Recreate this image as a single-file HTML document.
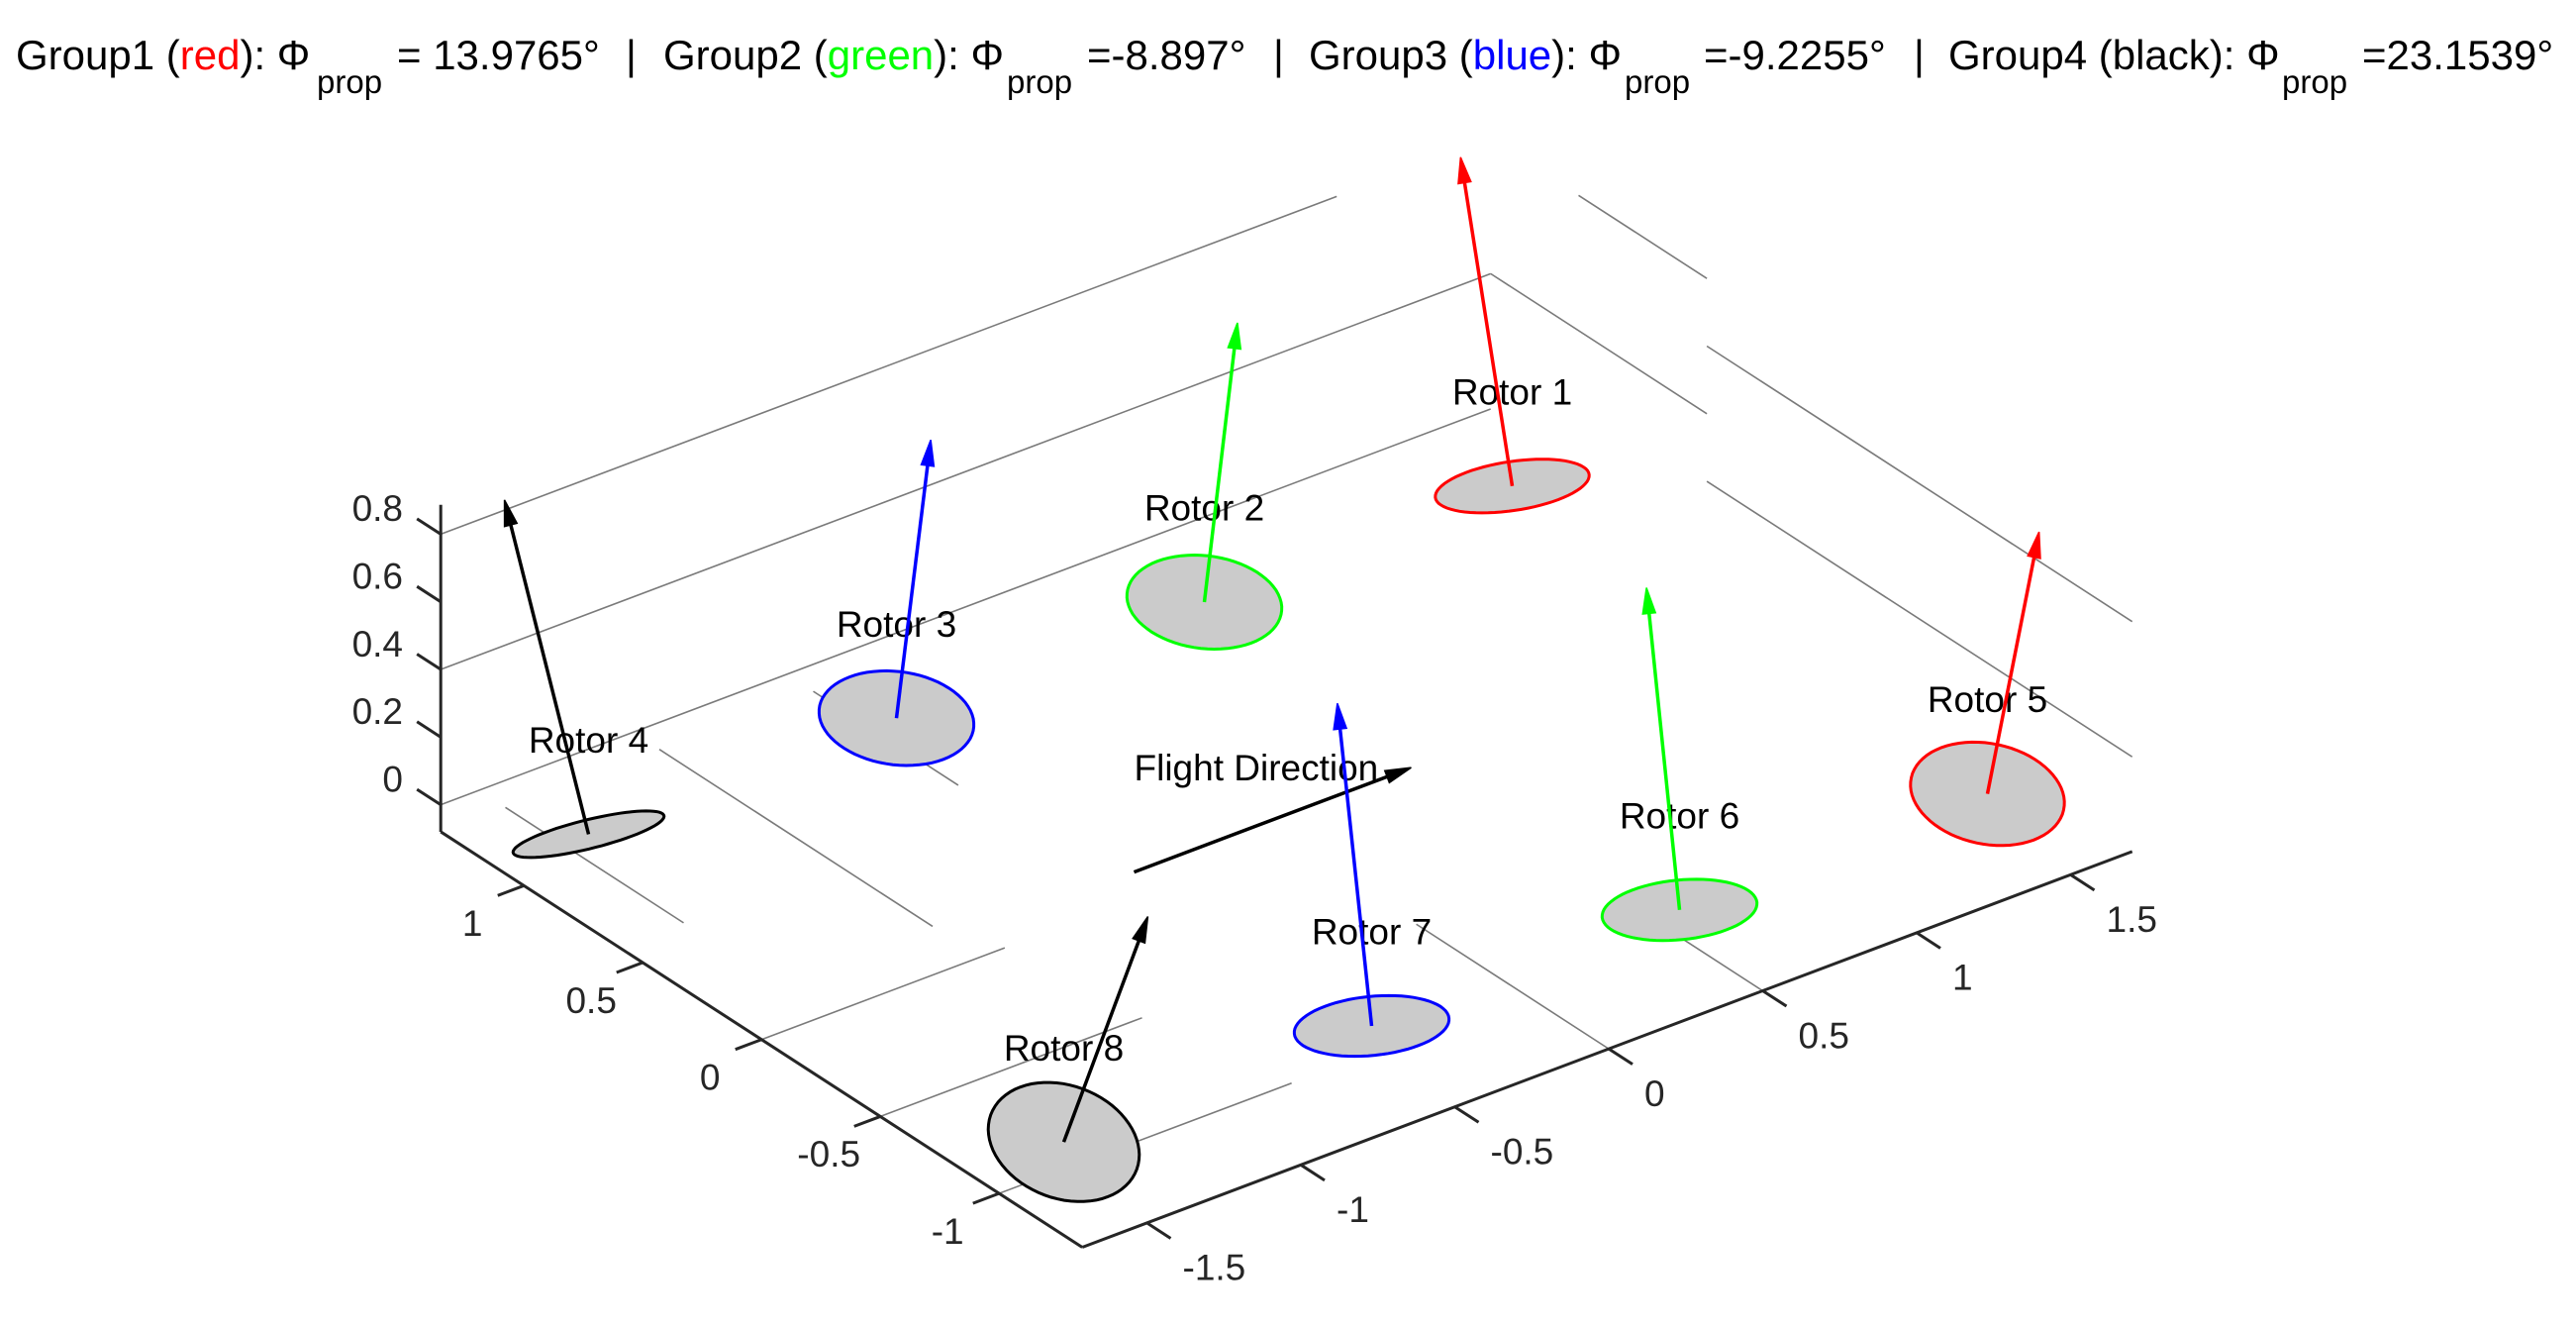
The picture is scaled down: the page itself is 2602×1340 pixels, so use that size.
<!DOCTYPE html>
<html>
<head>
<meta charset="utf-8">
<style>
  html,body{margin:0;padding:0;background:#fff;}
  svg{display:block;}
  text{font-family:"Liberation Sans",Arial,sans-serif;}
</style>
</head>
<body>
<svg id="chart" width="2602" height="1340" viewBox="0 0 2602 1340" xmlns="http://www.w3.org/2000/svg">
  <rect width="2602" height="1340" fill="#fff"/>
  <g id="title" font-size="42" fill="#000">
    <text x="16" y="70">Group1 (<tspan fill="#ff0000">red</tspan>): Φ</text>
    <text x="320" y="94" font-size="33">prop</text>
    <text x="401" y="70">= 13.9765°</text>
    <text x="632" y="70">|</text>
    <text x="670" y="70">Group2 (<tspan fill="#00ff00">green</tspan>): Φ</text>
    <text x="1017" y="94" font-size="33">prop</text>
    <text x="1098" y="70">=-8.897°</text>
    <text x="1286" y="70">|</text>
    <text x="1322" y="70">Group3 (<tspan fill="#0000ff">blue</tspan>): Φ</text>
    <text x="1641" y="94" font-size="33">prop</text>
    <text x="1721" y="70">=-9.2255°</text>
    <text x="1933" y="70">|</text>
    <text x="1968" y="70">Group4 (black): Φ</text>
    <text x="2305" y="94" font-size="33">prop</text>
    <text x="2386" y="70">=23.1539°</text>
  </g>
  <g id="grid"></g>
  <g id="axes"></g>
  <g id="marks"></g>
</svg>
<script>
// ---- data ----
const groupAngles = [13.9765, -8.897, -9.2255, 23.1539];
const groupColors = ["#ff0000", "#00ff00", "#0000ff", "#000000"];
const rotorNames = ["Rotor 1","Rotor 2","Rotor 3","Rotor 4","Rotor 5","Rotor 6","Rotor 7","Rotor 8"];
const rotorX = [1.5, 0.5, -0.5, -1.5, 1.5, 0.5, -0.5, -1.5];
const rotorY = [1, 1, 1, 1, -1, -1, -1, -1];
const rotorZ = [0, 0, 0, 0, 0, 0, 0, 0];
const rotorGroup = [0, 1, 2, 3, 0, 1, 2, 3];
const thrustLength = 0.9;
const diskRadius = 0.2;
const flightStart = [-0.5, 0, 0];
const flightVector = [0.9, 0, 0];
const xTicks = [-1.5, -1, -0.5, 0, 0.5, 1, 1.5];
const xTickLabels = ["-1.5", "-1", "-0.5", "0", "0.5", "1", "1.5"];
const yTicks = [-1, -0.5, 0, 0.5, 1];
const yTickLabels = ["-1", "-0.5", "0", "0.5", "1"];
const zTicks = [0, 0.2, 0.4, 0.6, 0.8];
const zTickLabels = ["0", "0.2", "0.4", "0.6", "0.8"];
const xLim = [-1.71, 1.7];
const yLim = [-1.35, 1.35];
const zLim = [-0.08, 0.887];

// ---- projection ----
const X0 = 1301, Y0 = 822;
function P(x, y, z) {
  return [X0 + 311 * x - 240 * y, Y0 - 117.2 * x - 155.4 * y - 341.5 * z];
}
const NS = "http://www.w3.org/2000/svg";
function el(tag, attrs, parent) {
  const e = document.createElementNS(NS, tag);
  for (const k in attrs) e.setAttribute(k, attrs[k]);
  parent.appendChild(e);
  return e;
}
function line3(a, b, attrs, parent) {
  const p = P(a[0], a[1], a[2]), q = P(b[0], b[1], b[2]);
  return el("line", Object.assign({x1: p[0], y1: p[1], x2: q[0], y2: q[1]}, attrs), parent);
}
const grid = document.getElementById("grid");
const axes = document.getElementById("axes");
const marks = document.getElementById("marks");
const gridStyle = {stroke: "#7a7a7a", "stroke-width": 1.6};

// ---- gridlines (visible portions as rendered) ----
const floorXLines = [[-1.5, 1.35, 0.6], [-1, 1.35, 0.2], [-0.5, 1.35, 0.74], [0, -0.54, -1.35], [0.5, -0.85, -1.35]];
floorXLines.forEach(function (g) {
  const l = line3([g[0], g[1], zLim[0]], [g[0], g[2], zLim[0]], gridStyle, grid);
  
  
});
const floorYLines = [[0, -1.71, -0.92], [-0.5, -1.71, -0.86], [-1, -1.71, -0.76]];
floorYLines.forEach(function (g) {
  const l = line3([g[1], g[0], zLim[0]], [g[2], g[0], zLim[0]], gridStyle, grid);
  
  
});
const wallLeftLines = [[0.8, -1.71, 1.2], [0.4, -1.71, 1.7], [0, -1.71, 1.7]];
wallLeftLines.forEach(function (g) {
  const l = line3([g[1], yLim[1], g[0]], [g[2], yLim[1], g[0]], gridStyle, grid);
  
  
});
const wallRightLines = [[0.8, 0.98, 0.44], [0.4, 1.35, 0.44], [0.6, 0.44, -1.35], [0.2, 0.44, -1.35]];
wallRightLines.forEach(function (g) {
  const l = line3([xLim[1], g[1], g[0]], [xLim[1], g[2], g[0]], gridStyle, grid);
  
  
});

// ---- axes ----
const axStyle = {stroke: "#262626", "stroke-width": 3};
let a;
a = line3([xLim[0], yLim[0], zLim[0]], [xLim[1], yLim[0], zLim[0]], axStyle, axes);


a = line3([xLim[0], yLim[0], zLim[0]], [xLim[0], yLim[1], zLim[0]], axStyle, axes);


a = line3([xLim[0], yLim[1], zLim[0]], [xLim[0], yLim[1], zLim[1]], axStyle, axes);



xTicks.forEach(function (v, i) {
  const t = line3([v, yLim[0], zLim[0]], [v, yLim[0] - 0.1, zLim[0]], axStyle, axes);
  
  
  const p = P(v, yLim[0], zLim[0]);
  const tx = el("text", {x: p[0] + 36, y: p[1] + 48, "font-size": 37, fill: "#262626", "dominant-baseline": "middle"}, axes);
  tx.textContent = xTickLabels[i];
  
  
});
yTicks.forEach(function (v, i) {
  const t = line3([xLim[0], v, zLim[0]], [xLim[0] - 0.085, v, zLim[0]], axStyle, axes);
  
  
  const p = P(xLim[0], v, zLim[0]);
  const tx = el("text", {x: p[0] - 52, y: p[1] + 41, "font-size": 37, fill: "#262626", "text-anchor": "middle", "dominant-baseline": "middle"}, axes);
  tx.textContent = yTickLabels[i];
  
  
});
zTicks.forEach(function (v, i) {
  const t = line3([xLim[0], yLim[1], v], [xLim[0], yLim[1] + 0.1, v], axStyle, axes);
  
  
  const p = P(xLim[0], yLim[1], v);
  const tx = el("text", {x: 407, y: p[1] - 23, "font-size": 37, fill: "#262626", "text-anchor": "end", "dominant-baseline": "middle"}, axes);
  tx.textContent = zTickLabels[i];
  
  
});

// ---- arrow helper ----
function arrow(start, vec, color, parent, name) {
  const g = el("g", {}, parent);
  
  
  const p = P(start[0], start[1], start[2]);
  const q = P(start[0] + vec[0], start[1] + vec[1], start[2] + vec[2]);
  const dx = q[0] - p[0], dy = q[1] - p[1];
  const len = Math.sqrt(dx * dx + dy * dy);
  const ux = dx / len, uy = dy / len;
  const hl = 26, hw = 6.5;
  const bx = q[0] - ux * hl, by = q[1] - uy * hl;
  el("line", {x1: p[0], y1: p[1], x2: bx + ux * 4, y2: by + uy * 4, stroke: color, "stroke-width": 3.5}, g);
  el("polygon", {points: q[0] + "," + q[1] + " " + (bx - uy * hw) + "," + (by + ux * hw) + " " + (bx + uy * hw) + "," + (by - ux * hw), fill: color, stroke: color, "stroke-width": 1.5}, g);
  return g;
}

// ---- flight direction ----
arrow(flightStart, flightVector, "#000", marks, "flight-direction-arrow");
const fp = P(flightStart[0], flightStart[1], flightStart[2] + 0.3);
const ft = el("text", {x: fp[0], y: fp[1], "font-size": 37, fill: "#000", "dominant-baseline": "middle"}, marks);
ft.textContent = "Flight Direction";



// ---- rotors ----
rotorX.forEach(function (rx, i) {
  const gi = rotorGroup[i];
  const phi = groupAngles[gi] * Math.PI / 180;
  const s = rotorY[i] >= 0 ? 1 : -1;
  const color = groupColors[gi];
  const c = [rx, rotorY[i], rotorZ[i]];
  const e2 = [0, Math.cos(phi), -s * Math.sin(phi)];
  let pts = [];
  for (let k = 0; k < 72; k++) {
    const t = k / 72 * 2 * Math.PI;
    const ct = Math.cos(t) * diskRadius, st = Math.sin(t) * diskRadius;
    const p = P(c[0] + ct, c[1] + st * e2[1], c[2] + st * e2[2]);
    pts.push(p[0].toFixed(1) + "," + p[1].toFixed(1));
  }
  const disk = el("polygon", {points: pts.join(" "), fill: "#cbcbcb", stroke: color, "stroke-width": 3}, marks);
  
  
  const lp = P(c[0], c[1], c[2] + 0.27);
  const lb = el("text", {x: lp[0], y: lp[1], "font-size": 37, fill: "#000", "text-anchor": "middle", "dominant-baseline": "middle"}, marks);
  lb.textContent = rotorNames[i];
  
  
  const vec = [0, s * thrustLength * Math.sin(phi), thrustLength * Math.cos(phi)];
  arrow(c, vec, color, marks, 'thrust-arrow-' + (i + 1));
});
</script>
</body>
</html>
